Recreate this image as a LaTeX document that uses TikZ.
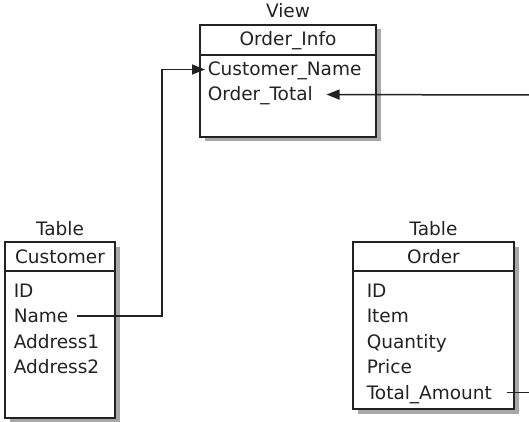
\documentclass[tikz,border=0pt]{standalone}
\usepackage{fontspec}
\setmainfont{DejaVu Sans}
\usetikzlibrary{arrows.meta, shadows}
\definecolor{tabink}{HTML}{222222}
\definecolor{tabshade}{HTML}{A8A8A8}

\begin{document}
\begin{tikzpicture}[
  x=1pt, y=-1pt,
  line width=1.5pt, line join=miter,
  >={Triangle[length=13pt, width=10pt]},
  tbl/.style  = {draw=tabink, line width=1.6pt, fill=white, rectangle,
                 inner sep=0pt, anchor=center,
                 drop shadow={shadow xshift=4.5pt, shadow yshift=-4.5pt,
                              fill=tabshade, opacity=1}},
  ttl/.style  = {font=\fontsize{18.5}{20}\selectfont, inner sep=0pt,
                 anchor=base, text=tabink},
  fld/.style  = {font=\fontsize{18.5}{20}\selectfont, inner sep=0pt,
                 text height=13pt, text depth=0pt, anchor=base west, text=tabink},
  link/.style = {draw=tabink, line width=1.5pt},
  rule/.style = {draw=tabink, line width=2pt}
]
\useasboundingbox (0,0) rectangle (529,422);

% boxes
\node[tbl, minimum width=176pt, minimum height=112pt] (vbox) at (288,81) {};
\node[tbl, minimum width=110pt, minimum height=176pt] (cbox) at (60,330) {};
\node[tbl, minimum width=161pt, minimum height=167pt] (obox) at (433.5,325.5) {};
\draw[rule] (vbox.west |- 0,55) -- (vbox.east |- 0,55);
\draw[rule] (cbox.west |- 0,271) -- (cbox.east |- 0,271);
\draw[rule] (obox.west |- 0,271) -- (obox.east |- 0,271);

% titles
\node[ttl] (vlbl) at (288,18) {View};
\node[ttl] (clbl) at (60,235) {Table};
\node[ttl] (olbl) at (433.5,235) {Table};
\node[ttl] (vhd) at (288,46) {Order\_Info};
\node[ttl] (chd) at (60,263) {Customer};
\node[ttl] (ohd) at (433.5,263) {Order};

% view columns
\node[fld] (cn) at (207,76) {Customer\_Name};
\node[fld] (ot) at (207,101) {Order\_Total};

% customer columns
\node[fld] (cid) at (13,297) {ID};
\node[fld] (nm)  at (13,322.5) {Name};
\node[fld] (ad1) at (13,348) {Address1};
\node[fld] (ad2) at (13,373.5) {Address2};

% order columns
\node[fld] (oid) at (366,297) {ID};
\node[fld] (itm) at (366,322.5) {Item};
\node[fld] (qty) at (366,348) {Quantity};
\node[fld] (prc) at (366,373.5) {Price};
\node[fld] (tam) at (366,399) {Total\_Amount};

% connectors
\coordinate (bend) at (162,0);
\coordinate (rin)  at (529,95);
\coordinate (rout) at (529,392.5);
\draw[link, ->, shorten <=8pt, shorten >=2pt]
  (nm.east) -- (nm.east -| bend) -- (bend |- cn.west) -- (cn.west);
\draw[link, ->, shorten >=13pt] (rin) -- (ot.east);
\draw[link, shorten <=14pt] (tam.east) -- (rout);
\end{tikzpicture}
\end{document}
